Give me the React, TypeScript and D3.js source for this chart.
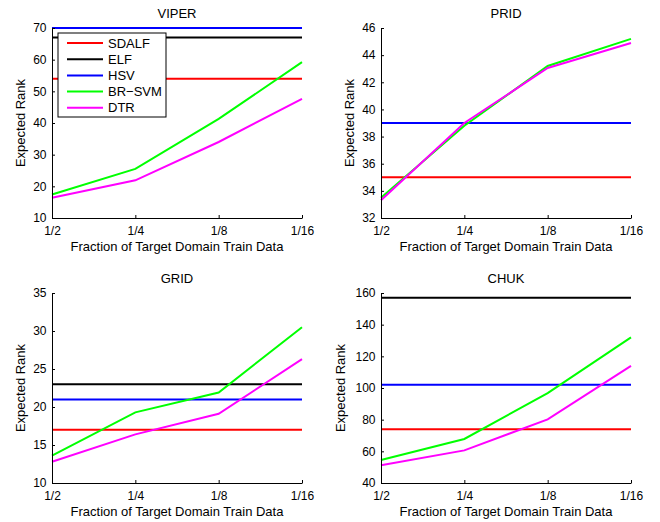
import React, { useEffect, useRef } from 'react';
import * as d3 from 'd3';

// x categories
const fractions = ['1/2', '1/4', '1/8', '1/16'];

const methods = ['SDALF', 'ELF', 'HSV', 'BR\u2212SVM', 'DTR'];
const methodColors = ['#ff0000', '#000000', '#0000ff', '#00ff00', '#ff00ff'];

// constant baselines (SDALF, ELF, HSV); null = not drawn
const viperBase = [54, 67, 70];
const pridBase = [35, null, 39];
const gridBase = [17, 23, 21];
const chukBase = [74, 157, 102];

// BR-SVM per fraction
const viperBrSvm = [17.4, 25.5, 41.3, 59.2];
const pridBrSvm = [33.5, 38.8, 43.2, 45.2];
const gridBrSvm = [13.6, 19.3, 21.9, 30.5];
const chukBrSvm = [54.5, 67.8, 96.8, 132];

// DTR per fraction
const viperDtr = [16.4, 21.9, 34, 47.6];
const pridDtr = [33.3, 39.0, 43.05, 44.9];
const gridDtr = [12.8, 16.4, 19.1, 26.3];
const chukDtr = [51.2, 60.6, 80.2, 114];

// y ticks (first/last = domain)
const viperTicks = [10, 20, 30, 40, 50, 60, 70];
const pridTicks = [32, 34, 36, 38, 40, 42, 44, 46];
const gridTicks = [10, 15, 20, 25, 30, 35];
const chukTicks = [40, 60, 80, 100, 120, 140, 160];

const panels = [
  { title: 'VIPER', base: viperBase, brsvm: viperBrSvm, dtr: viperDtr, ticks: viperTicks, left: 52, top: 28, legend: true },
  { title: 'PRID', base: pridBase, brsvm: pridBrSvm, dtr: pridDtr, ticks: pridTicks, left: 381, top: 28, legend: false },
  { title: 'GRID', base: gridBase, brsvm: gridBrSvm, dtr: gridDtr, ticks: gridTicks, left: 52, top: 293, legend: false },
  { title: 'CHUK', base: chukBase, brsvm: chukBrSvm, dtr: chukDtr, ticks: chukTicks, left: 381, top: 293, legend: false },
];

const W = 660;
const H = 522;
const font = 'Liberation Sans, Arial, Helvetica, sans-serif';

export default function App() {
  const svgRef = useRef<SVGSVGElement | null>(null);

  useEffect(() => {
    const svg = d3.select(svgRef.current);
    svg.selectAll('*').remove();

    const pw = 250;
    const ph = 190;

    panels.forEach((p) => {
      const g = svg.append('g').attr('transform', `translate(${p.left},${p.top})`);

      const x = d3.scalePoint().domain(fractions).range([0, pw]);
      const y = d3
        .scaleLinear()
        .domain([p.ticks[0], p.ticks[p.ticks.length - 1]])
        .range([ph, 0]);

      // baselines are flat across all fractions
      const series = [
        ...p.base.map((v) => (v == null ? null : fractions.map(() => v))),
        p.brsvm,
        p.dtr,
      ];

      const line = d3
        .line<number>()
        .x((_, i) => x(fractions[i]) as number)
        .y((d) => y(d));

      series.forEach((s, i) => {
        if (!s) return;
        g.append('path')
          .datum(s)
          .attr('d', line)
          .attr('fill', 'none')
          .attr('stroke', methodColors[i])
          .attr('stroke-width', 2);
      });

      // axes, ticks pointing inward
      const yAxis = d3
        .axisLeft(y)
        .tickValues(p.ticks)
        .tickSizeInner(-3)
        .tickSizeOuter(0)
        .tickPadding(5.5);
      const xAxis = d3
        .axisBottom(x)
        .tickSizeInner(-3)
        .tickSizeOuter(0)
        .tickPadding(8);

      const ya = g.append('g').call(yAxis);
      const xa = g.append('g').attr('transform', `translate(0,${ph})`).call(xAxis);
      [ya, xa].forEach((a) => {
        a.selectAll('path,line').attr('stroke', '#000');
        a.selectAll('text')
          .attr('fill', '#000')
          .style('font-family', font)
          .style('font-size', '12px');
      });

      g.append('text')
        .attr('x', pw / 2)
        .attr('y', -10)
        .attr('text-anchor', 'middle')
        .style('font-family', font)
        .style('font-size', '13px')
        .text(p.title);

      g.append('text')
        .attr('x', pw / 2)
        .attr('y', ph + 33)
        .attr('text-anchor', 'middle')
        .style('font-family', font)
        .style('font-size', '13px')
        .text('Fraction of Target Domain Train Data');

      const maxLen = d3.max(p.ticks, (t) => String(t).length) as number;
      g.append('text')
        .attr('transform', `translate(${maxLen > 2 ? -36 : -27.5},${ph / 2}) rotate(-90)`)
        .attr('text-anchor', 'middle')
        .style('font-family', font)
        .style('font-size', '13px')
        .text('Expected Rank');

      if (p.legend) {
        const lg = g.append('g').attr('transform', 'translate(6,5)');
        lg.append('rect')
          .attr('width', 108)
          .attr('height', 84)
          .attr('fill', '#fff')
          .attr('stroke', '#000')
          .attr('stroke-width', 1);
        methods.forEach((m, i) => {
          const ly = 10 + i * 16.2;
          lg.append('line')
            .attr('x1', 9)
            .attr('x2', 45)
            .attr('y1', ly)
            .attr('y2', ly)
            .attr('stroke', methodColors[i])
            .attr('stroke-width', 2);
          lg.append('text')
            .attr('x', 50)
            .attr('y', ly)
            .attr('dy', '0.35em')
            .style('font-family', font)
            .style('font-size', '13px')
            .text(m);
        });
      }
    });
  }, []);

  return (
    <svg
      ref={svgRef}
      width={W}
      height={H}
      style={{ position: 'absolute', left: 0, top: 0, background: '#fff' }}
    />
  );
}
